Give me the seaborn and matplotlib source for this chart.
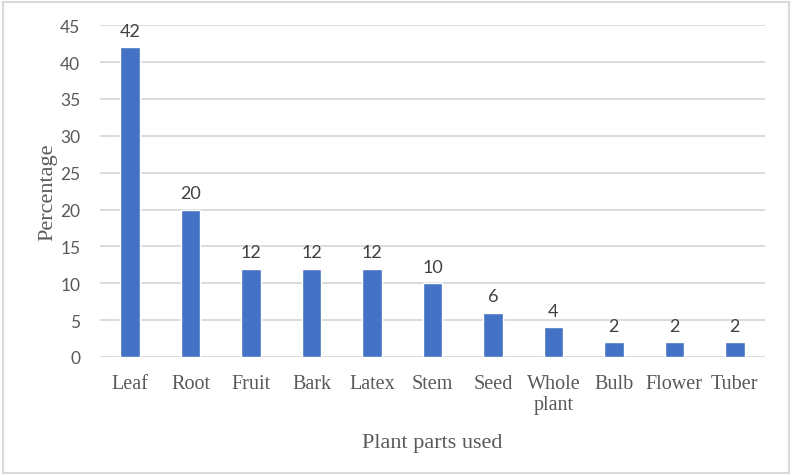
import matplotlib
matplotlib.use('Agg')
import matplotlib.pyplot as plt
import seaborn as sns
import pandas as pd

# ── data ───────────────────────────────────────────────────────────────────
PARTS = ['Leaf', 'Root', 'Fruit', 'Bark', 'Latex', 'Stem', 'Seed',
         'Whole\nplant', 'Bulb', 'Flower', 'Tuber']
PERCENT = [42, 20, 12, 12, 12, 10, 6, 4, 2, 2, 2]
Y_TICKS = [0, 5, 10, 15, 20, 25, 30, 35, 40, 45]

BAR_COLOUR  = '#4472C4'
GRID_COLOUR = '#D9D9D9'
TEXT_COLOUR = '#595959'

df = pd.DataFrame({'part': PARTS, 'pct': PERCENT})

sns.set_style('white')

fig = plt.figure(figsize=(7.92, 4.77), dpi=100)
ax = fig.add_axes([0.126, 0.2495, 0.84, 0.6955])

sns.barplot(data=df, x='part', y='pct', color=BAR_COLOUR, width=0.32,
            saturation=1, ax=ax)

ax.set_ylim(0, 45)
ax.set_yticks(Y_TICKS)
ax.set_yticklabels([str(t) for t in Y_TICKS], family='Lato', fontsize=12.5,
                   color=TEXT_COLOUR)
ax.set_xticks(range(len(PARTS)))
ax.set_xticklabels(PARTS, family='Liberation Serif', fontsize=14.5,
                   color=TEXT_COLOUR, linespacing=1.15, va='top')
ax.tick_params(axis='both', length=0)
ax.tick_params(axis='y', pad=14)
ax.tick_params(axis='x', pad=12)

ax.grid(axis='y', color=GRID_COLOUR, linewidth=1.3)
ax.set_axisbelow(True)
for s in ax.spines.values():
    s.set_visible(False)

ax.set_ylabel('Percentage', family='Liberation Serif', fontsize=16,
              color=TEXT_COLOUR, labelpad=2)
ax.set_xlabel('Plant parts used', family='Liberation Serif', fontsize=16,
              color=TEXT_COLOUR, labelpad=14)

# value labels above bars
for i, v in enumerate(PERCENT):
    ax.annotate(str(v), (i, v), xytext=(0, 6), textcoords='offset points',
                ha='center', va='bottom', family='Lato', fontsize=13,
                color='#404040')

# outer chart border
fig.patches.append(plt.Rectangle((0.004, 0.006), 0.992, 0.988,
                                 transform=fig.transFigure, fill=False,
                                 edgecolor=GRID_COLOUR, linewidth=1.5))

fig.savefig('out.png', dpi=100)
